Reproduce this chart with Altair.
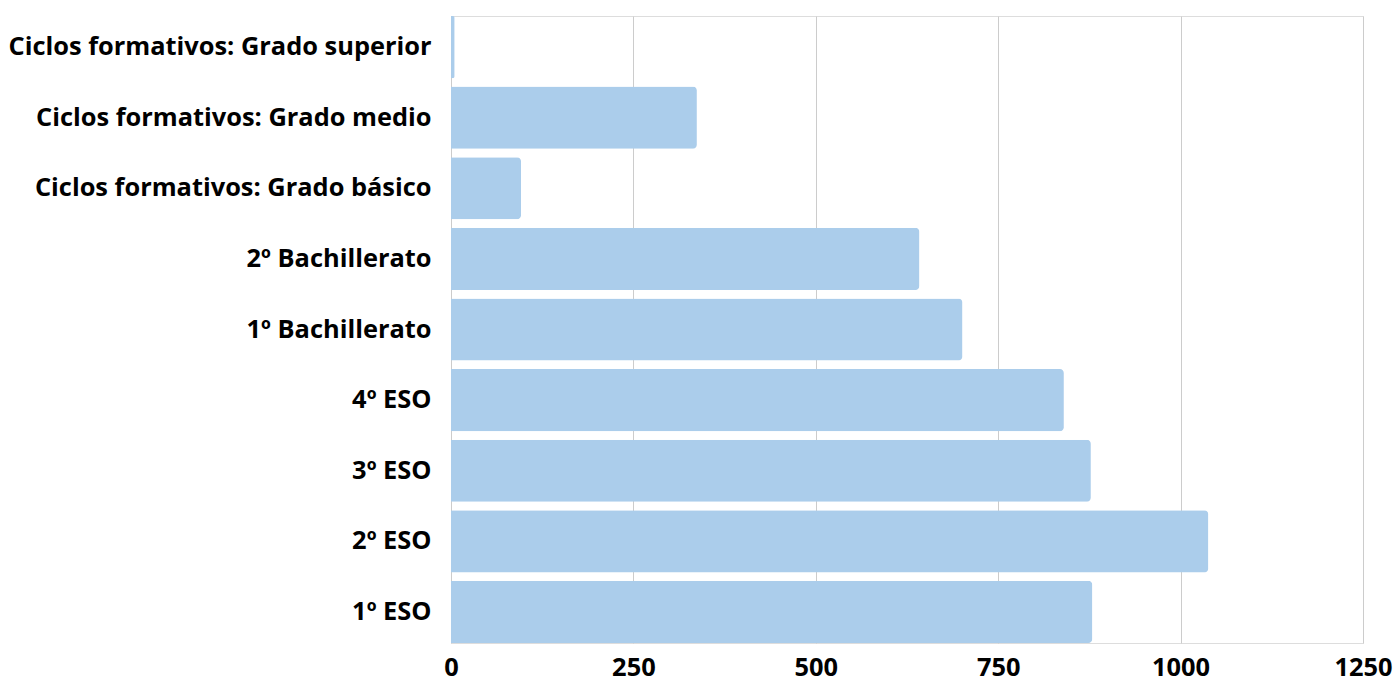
import altair as alt
import pandas as pd

categories = [
    "Ciclos formativos: Grado superior",
    "Ciclos formativos: Grado medio",
    "Ciclos formativos: Grado básico",
    "2º Bachillerato",
    "1º Bachillerato",
    "4º ESO",
    "3º ESO",
    "2º ESO",
    "1º ESO",
]
values = [5, 337, 96, 642, 701, 840, 877, 1038, 879]
x_ticks = [0, 250, 500, 750, 1000, 1250]

df = pd.DataFrame({"cat": categories, "val": values})

chart = (
    alt.Chart(df)
    .mark_bar(color="#abcdeb", cornerRadiusEnd=4)
    .encode(
        x=alt.X(
            "val:Q",
            scale=alt.Scale(domain=[0, 1250], nice=False),
            axis=alt.Axis(
                values=x_ticks,
                format="d",
                title=None,
                ticks=False,
                domain=False,
                labelFont="Open Sans",
                labelFontWeight="bold",
                labelFontSize=25.4,
                labelColor="#000000",
                labelPadding=12,
                gridColor="#cccccc",
                gridWidth=1,
                labelFlush=False,
            ),
        ),
        y=alt.Y(
            "cat:N",
            sort=categories,
            scale=alt.Scale(paddingInner=0.12, paddingOuter=0),
            axis=alt.Axis(
                title=None,
                ticks=False,
                domain=False,
                grid=False,
                labelFont="Open Sans",
                labelFontWeight="bold",
                labelFontSize=25.4,
                labelColor="#000000",
                labelPadding=20,
                labelLimit=0,
            ),
        ),
    )
    .properties(
        width=912,
        height=627,
        autosize=alt.AutoSizeParams(type="none"),
        padding={"left": 451, "top": 16, "right": 33, "bottom": 39},
    )
    .configure_view(stroke=None)
    .configure(background="white")
)

chart.save("out.html", embed_options={"renderer": "svg", "actions": False})
